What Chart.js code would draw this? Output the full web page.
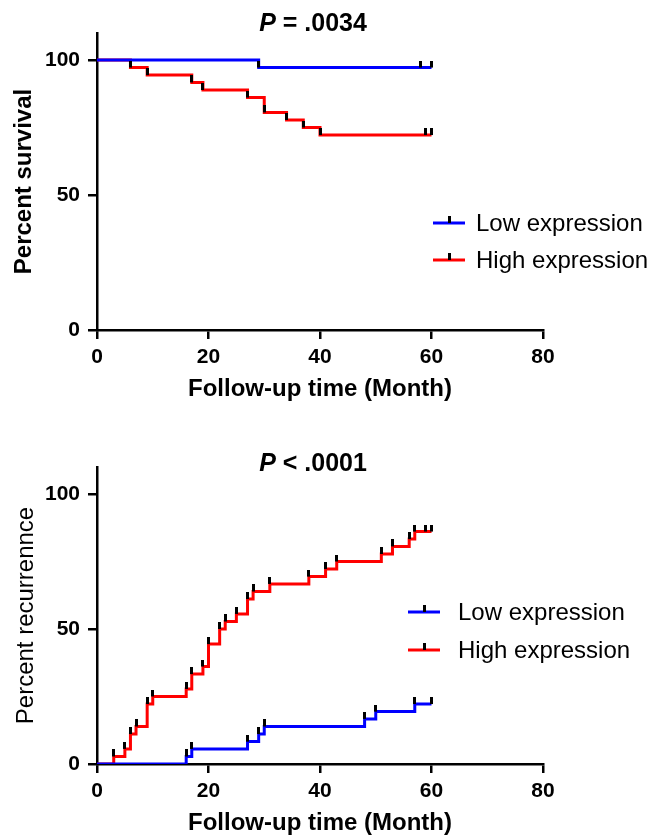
<!DOCTYPE html>
<html>
<head>
<meta charset="utf-8">
<script src="https://cdn.jsdelivr.net/npm/chart.js@4.4.0/dist/chart.umd.min.js"></script>
<style>
html, body { margin: 0; padding: 0; background: #fff; }
#wrap1 { position: relative; width: 652px; height: 404px; }
#wrap2 { position: relative; width: 652px; height: 434px; }
</style>
</head>
<body>
<div id="wrap1"><canvas id="survChart"></canvas></div>
<div id="wrap2"><canvas id="recChart"></canvas></div>
<script>
// series names
var seriesNames = ['Low expression', 'High expression'];
var xTicks = [0, 20, 40, 60, 80];
var yTicks = [0, 50, 100];

// overall survival (step points: time, value after event)
var survLowTimes = [0, 29, 60];
var survLowVals = [100, 97.2, 97.2];
var survLowCens = [29, 58, 60];
var survHighTimes = [0, 6, 9, 17, 19, 27, 30, 34, 37, 40, 60];
var survHighVals = [100, 97.2, 94.4, 91.7, 88.9, 86.1, 80.6, 77.8, 75.0, 72.2, 72.2];
var survHighCens = [6, 9, 17, 19, 27, 30, 34, 37, 40, 59, 60];

// recurrence
var recLowTimes = [0, 16, 17, 27, 29, 30, 48, 50, 57, 60];
var recLowVals = [0, 2.8, 5.6, 8.3, 11.1, 13.9, 16.7, 19.4, 22.2, 22.2];
var recLowCens = [16, 17, 27, 29, 30, 48, 50, 57, 60];
var recHighTimes = [0, 3, 5, 6, 7, 9, 10, 16, 17, 19, 20, 22, 23, 25, 27, 28, 31, 38, 41, 43, 51, 53, 56, 57, 60];
var recHighVals = [0, 2.8, 5.6, 11.1, 13.9, 22.2, 25.0, 27.8, 33.3, 36.1, 44.4, 50.0, 52.8, 55.6, 61.1, 63.9, 66.7, 69.4, 72.2, 75.0, 77.8, 80.6, 83.3, 86.1, 86.1];
var recHighCens = [3, 5, 6, 7, 9, 10, 16, 17, 19, 20, 22, 23, 25, 27, 28, 31, 38, 41, 43, 51, 53, 56, 57, 59, 60];

var BLUE = '#0000ff';
var RED = '#ff0000';
var FONT = '"Liberation Sans", Arial, Helvetica, sans-serif';
Chart.defaults.font.family = FONT;
Chart.defaults.color = '#000';

function toPoints(times, vals) {
    return times.map(function (t, i) { return { x: t, y: vals[i] }; });
}

function valueAt(times, vals, t) {
    var v = vals[0];
    for (var i = 0; i < times.length; i++) {
        if (times[i] <= t) v = vals[i];
    }
    return v;
}

function censPoints(cens, times, vals) {
    return cens.map(function (t) { return { x: t, y: valueAt(times, vals, t) }; });
}

// little black tick pointing up from the curve
var tickImg = document.createElement('canvas');
tickImg.width = 3;
tickImg.height = 14;
(function () {
    var g = tickImg.getContext('2d');
    g.fillStyle = '#000';
    g.fillRect(0, 0, 3, 7);
})();

var pTitle = {
    id: 'pTitle',
    afterDraw: function (chart, args, o) {
        var ctx = chart.ctx;
        var f1 = 'italic bold 25px ' + FONT;
        var f2 = 'bold 25px ' + FONT;
        ctx.save();
        ctx.fillStyle = '#000';
        ctx.textBaseline = 'middle';
        ctx.font = f1;
        var w1 = ctx.measureText(o.lead).width;
        ctx.font = f2;
        var w2 = ctx.measureText(o.rest).width;
        var x = o.cx - (w1 + w2) / 2;
        ctx.font = f1;
        ctx.fillText(o.lead, x, o.y);
        ctx.font = f2;
        ctx.fillText(o.rest, x + w1, o.y);
        ctx.restore();
    }
};

var kmLegend = {
    id: 'kmLegend',
    afterDraw: function (chart, args, o) {
        var ctx = chart.ctx;
        var items = chart.data.datasets.filter(function (d) { return d.inLegend; });
        ctx.save();
        items.forEach(function (d, i) {
            var y = o.y + i * o.gap;
            ctx.strokeStyle = d.borderColor;
            ctx.lineWidth = 3;
            ctx.beginPath();
            ctx.moveTo(o.x, y);
            ctx.lineTo(o.x + 32, y);
            ctx.stroke();
            ctx.fillStyle = '#000';
            ctx.fillRect(o.x + 15, y - 7, 3, 7);
            ctx.font = '24px ' + FONT;
            ctx.textBaseline = 'middle';
            ctx.fillText(d.label, o.x + o.tx, y + 1);
        });
        ctx.restore();
    }
};

function makeData(lowT, lowV, lowC, highT, highV, highC) {
    return {
        datasets: [
            {
                label: 'cens low', data: censPoints(lowC, lowT, lowV), showLine: false,
                pointStyle: tickImg, pointRadius: 4, order: 0
            },
            {
                label: 'cens high', data: censPoints(highC, highT, highV), showLine: false,
                pointStyle: tickImg, pointRadius: 4, order: 0
            },
            {
                label: seriesNames[0], inLegend: true, data: toPoints(lowT, lowV), stepped: 'before',
                borderColor: BLUE, borderWidth: 3, pointRadius: 0, fill: false, order: 1
            },
            {
                label: seriesNames[1], inLegend: true, data: toPoints(highT, highV), stepped: 'before',
                borderColor: RED, borderWidth: 3, pointRadius: 0, fill: false, order: 2
            }
        ]
    };
}

function makeOptions(c) {
    return {
        responsive: true,
        maintainAspectRatio: false,
        animation: false,
        layout: { padding: { left: 0, right: 109, top: c.top, bottom: 0 } },
        plugins: {
            legend: { display: false },
            tooltip: { enabled: false },
            pTitle: { lead: 'P', rest: c.rest, cx: 313, y: c.titleY },
            kmLegend: { x: c.legX, y: c.legY, gap: c.legGap, tx: c.legTx }
        },
        scales: {
            x: {
                type: 'linear', min: 0, max: 80,
                afterBuildTicks: function (s) { s.ticks = xTicks.map(function (v) { return { value: v }; }); },
                ticks: { color: '#000', padding: 6, font: { size: 21, weight: 'bold' } },
                grid: { drawOnChartArea: false, color: '#000', lineWidth: 2.5, tickLength: 9 },
                border: { color: '#000', width: 2.5 },
                title: { display: true, text: 'Follow-up time (Month)', color: '#000', padding: 0,
                    font: { size: 24, weight: 'bold', lineHeight: 1.2 } },
                afterFit: function (s) { s.height = 74; }
            },
            y: {
                type: 'linear', min: 0, max: 110,
                afterBuildTicks: function (s) { s.ticks = yTicks.map(function (v) { return { value: v }; }); },
                ticks: { color: '#000', padding: 8, font: { size: 21, weight: 'bold' } },
                grid: { drawOnChartArea: false, color: '#000', lineWidth: 2.5, tickLength: 9 },
                border: { color: '#000', width: 2.5 },
                title: { display: true, text: c.yTitle, color: '#000', padding: { top: c.yPad, bottom: 0 },
                    font: { size: 24, weight: c.yWeight, lineHeight: 1.2 } },
                afterFit: function (s) { s.width = 97; }
            }
        }
    };
}

new Chart(document.getElementById('survChart'), {
    type: 'line',
    data: makeData(survLowTimes, survLowVals, survLowCens, survHighTimes, survHighVals, survHighCens),
    options: makeOptions({ top: 33, rest: ' = .0034', titleY: 24, yTitle: 'Percent survival', yWeight: 'bold', yPad: 10,
        legX: 433, legY: 223, legGap: 37, legTx: 43 }),
    plugins: [pTitle, kmLegend]
});

new Chart(document.getElementById('recChart'), {
    type: 'line',
    data: makeData(recLowTimes, recLowVals, recLowCens, recHighTimes, recHighVals, recHighCens),
    options: makeOptions({ top: 63, rest: ' < .0001', titleY: 60, yTitle: 'Percent recurrennce', yWeight: 'normal', yPad: 12,
        legX: 408, legY: 208, legGap: 38, legTx: 50 }),
    plugins: [pTitle, kmLegend]
});
</script>
</body>
</html>
